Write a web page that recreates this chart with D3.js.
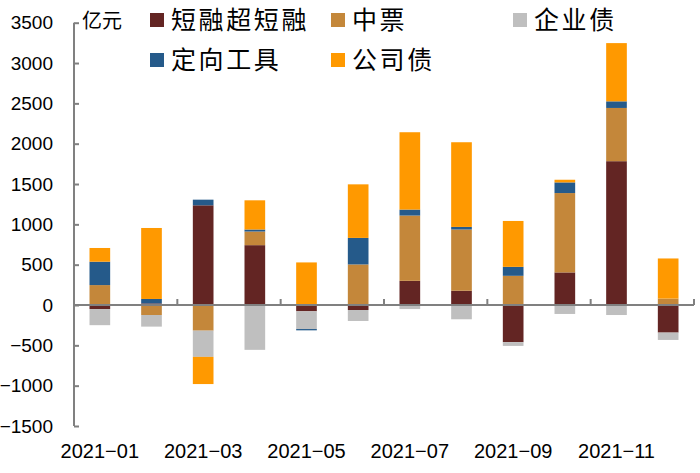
<!DOCTYPE html>
<html><head><meta charset="utf-8">
<script src="https://cdn.jsdelivr.net/npm/d3@7"></script>
<style>body{margin:0;background:#fff}svg{display:block}</style>
</head><body><svg id="c" width="700" height="473"></svg>
<script>
const months = ["2021-01","2021-02","2021-03","2021-04","2021-05","2021-06","2021-07","2021-08","2021-09","2021-10","2021-11","2021-12"];
const seriesNames = ["短融超短融","中票","企业债","定向工具","公司债"];
const duanrong = [-50, 20, 1236, 742, -78, -62, 300, 177, -461, 404, 1783, -342];
const zhongpiao = [247, -124, -318, 169, 0, 503, 809, 759, 362, 984, 660, 80];
const qiyezhai = [-200, -144, -325, -556, -220, -136, -50, -177, -46, -111, -124, -91];
const dingxiang = [290, 55, 70, 25, -16, 329, 74, 32, 111, 132, 82, 0];
const gongsizhai = [170, 880, -337, 362, 528, 664, 959, 1050, 569, 33, 722, 497];
const yTicks = [-1500,-1000,-500,0,500,1000,1500,2000,2500,3000,3500];
const colors = ["#632523","#C4873A","#BFBFBF","#255A8A","#FF9900"];

const seriesVals = [duanrong, zhongpiao, qiyezhai, dingxiang, gongsizhai];
const table = months.map((m,i)=>{const o={month:m}; seriesNames.forEach((s,j)=>o[s]=seriesVals[j][i]); return o;});
const stack = d3.stack().keys(seriesNames).offset(d3.stackOffsetDiverging)(table);

const svg = d3.select("#c");
const x = d3.scaleBand().domain(months).range([74,694]).paddingInner(0.6).paddingOuter(0.3);
const y = d3.scaleLinear().domain([-1500,3500]).range([426,22.7]);
const axisColor = "#808080";

svg.append("g").selectAll("g").data(stack).join("g")
  .attr("fill",(d,i)=>colors[i])
  .selectAll("rect").data(d=>d).join("rect")
  .attr("x",d=>x(d.data.month))
  .attr("width",x.bandwidth())
  .attr("y",d=>y(Math.max(d[0],d[1])))
  .attr("height",d=>Math.abs(y(d[0])-y(d[1])));

// y axis
const yAxis = svg.append("g").attr("transform","translate(74,0)")
  .call(d3.axisRight(y).tickValues(yTicks).tickSize(5).tickFormat(""));
yAxis.select(".domain").attr("d",`M0,${y(3500)}H0V${y(-1500)}H0`);
yAxis.selectAll("line,path").attr("stroke",axisColor).attr("stroke-width",2);
svg.append("g").selectAll("text").data(yTicks).join("text")
  .attr("x",53).attr("y",d=>y(d)).attr("dy","0.35em")
  .attr("text-anchor","end")
  .style("font-family","'Liberation Sans', Arial, sans-serif").style("font-size","19px").attr("fill","#000")
  .text(d=>d<0?"−"+Math.abs(d):d);

// x axis at zero
const boundaries = months.filter((m,i)=>i%2===1).map(m=>x(m)+x.bandwidth()+x.step()*x.paddingInner()/2);
svg.append("line").attr("x1",74).attr("x2",694).attr("y1",y(0)).attr("y2",y(0))
  .attr("stroke",axisColor).attr("stroke-width",2);
svg.append("g").selectAll("line").data(boundaries).join("line")
  .attr("x1",d=>d).attr("x2",d=>d).attr("y1",y(0)).attr("y2",y(0)-6)
  .attr("stroke",axisColor).attr("stroke-width",2);
svg.append("g").selectAll("text").data(months.filter((m,i)=>i%2===0)).join("text")
  .attr("x",d=>x(d)+x.bandwidth()/2).attr("y",458)
  .attr("text-anchor","middle")
  .style("font-family","'Liberation Sans', Arial, sans-serif").style("font-size","20px").attr("fill","#000")
  .text(d=>d.replace("-","−"));

// unit
svg.append("text").attr("x",82).attr("y",28)
  .style("font-family","'Noto Sans CJK SC', sans-serif").style("font-size","20px").text("亿元");

// legend
const legendPos = [[150,20],[331,20],[513,20],[150,60],[331,60]];
const lg = svg.append("g").selectAll("g").data(seriesNames).join("g")
  .attr("transform",(d,i)=>`translate(${legendPos[i][0]},${legendPos[i][1]})`);
lg.append("rect").attr("x",0).attr("y",-7).attr("width",14).attr("height",14).attr("fill",(d,i)=>colors[i]);
lg.append("text").attr("x",21).attr("y",0).attr("dy","0.36em")
  .style("font-family","'Noto Sans CJK SC', sans-serif").style("font-size","25px").style("letter-spacing","2.6px")
  .text(d=>d);
</script></body></html>
